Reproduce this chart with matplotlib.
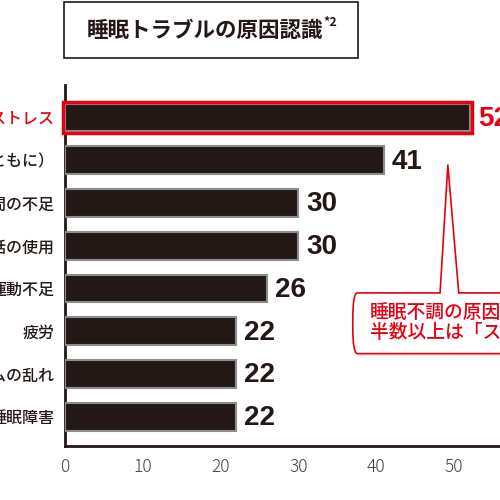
import numpy as np
import matplotlib.pyplot as plt
from matplotlib.patches import Rectangle, FancyBboxPatch, Polygon

plt.rcParams['font.family'] = ['Noto Sans CJK JP', 'DejaVu Sans']

# data
labels = ['精神的ストレス', '加齢（年齢とともに）', '睡眠時間の不足', '就寝前の携帯電話の使用',
          '運動不足', '疲労', '生活リズムの乱れ', '睡眠障害']
values = [52, 41, 30, 30, 26, 22, 22, 22]
xticks = [0, 10, 20, 30, 40, 50, 60]

red = '#e60012'
black = '#231815'

fig = plt.figure(figsize=(5, 5), dpi=100)
# axes wider than the figure so the chart is cut off at the right like the reference
ax = fig.add_axes([0.129, 0.108, 0.935, 0.722])

y = np.arange(len(labels))
ax.barh(y, values, height=0.65, color=black, edgecolor='#8c8c8c', linewidth=1.5, zorder=3)
ax.set_xlim(0, 60)
ax.set_ylim(7.68, -0.76)

ax.set_yticks(y)
ax.set_yticklabels(labels, fontsize=11.5, fontweight='medium')
for i, t in enumerate(ax.get_yticklabels()):
    t.set_color(red if i == 0 else '#231815')
ax.set_xticks(xticks)
ax.set_xticklabels([str(v) for v in xticks], fontsize=12.5, color='#444444', fontweight='light')
ax.tick_params(axis='both', length=0)
ax.tick_params(axis='y', pad=7)
ax.tick_params(axis='x', pad=9)

for s in ['top', 'right']:
    ax.spines[s].set_visible(False)
ax.spines['left'].set_linewidth(2)
ax.spines['bottom'].set_linewidth(2)
ax.spines['left'].set_color('#231815')
ax.spines['bottom'].set_color('#231815')

# value labels
for i, v in enumerate(values):
    ax.text(v + (1.1 if i == 0 else 1.0), i + 0.03, str(v), va='center', ha='left',
            fontsize=20, fontweight='bold', family='Liberation Sans',
            color=red if i == 0 else black, zorder=4)

# red frame around the top bar
ax.add_patch(Rectangle((-0.2, -0.37), values[0] + 0.5, 0.74, fill=False,
                       edgecolor=red, linewidth=2.5, zorder=5, clip_on=False))

# callout
ax.add_patch(FancyBboxPatch((37.3, 4.18), 30, 1.4, boxstyle='round,pad=0,rounding_size=0.6',
                            facecolor='#dddddd', edgecolor='none', alpha=0.6, zorder=5, clip_on=False))
ax.add_patch(FancyBboxPatch((37.0, 4.1), 30, 1.42, boxstyle='round,pad=0,rounding_size=0.6',
                            facecolor='white', edgecolor=red, linewidth=1.2, zorder=6, clip_on=False))
ax.add_patch(Polygon([(48.2, 4.13), (49.2, 1.11), (50.6, 4.13)], closed=True,
                     facecolor='white', edgecolor='none', zorder=7, clip_on=False))
ax.plot([48.2, 49.2, 50.6], [4.1, 1.11, 4.1], color=red, linewidth=1.2, zorder=8, clip_on=False)
ax.text(39.2, 4.57, '睡眠不調の原因は', color=red, fontsize=13.5, fontweight='medium',
        va='center', ha='left', zorder=9)
ax.text(39.2, 5.02, '半数以上は「ストレス」', color=red, fontsize=13.5, fontweight='medium',
        va='center', ha='left', zorder=9)

# title box
fig.patches.append(Rectangle((0.128, 0.884), 0.588, 0.112, transform=fig.transFigure,
                             fill=False, edgecolor='#231815', linewidth=1.2))
fig.text(0.41, 0.94, '睡眠トラブルの原因認識', ha='center', va='center',
         fontsize=15.5, fontweight='bold', color='#231815')
fig.text(0.646, 0.955, '*2', ha='left', va='center', fontsize=9, fontweight='bold',
         color='#231815')

fig.savefig('out.png', dpi=100)
